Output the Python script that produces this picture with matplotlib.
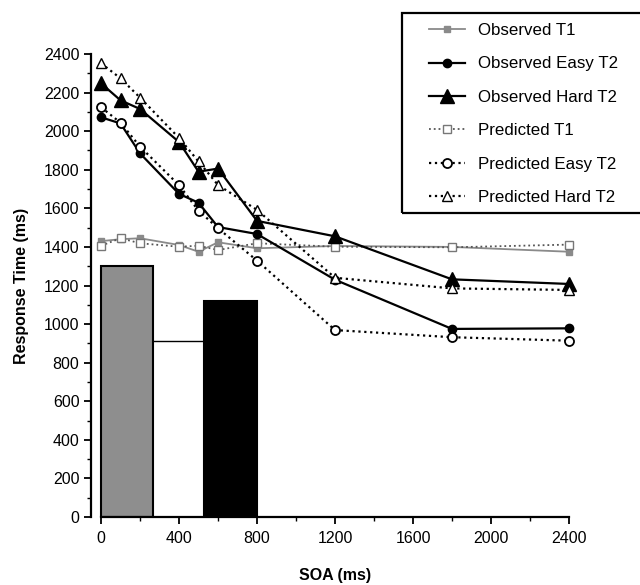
import numpy as np
import matplotlib.pyplot as plt
from matplotlib.patches import Rectangle
from matplotlib.ticker import MultipleLocator

plt.rcParams['font.family'] = ['Liberation Sans', 'DejaVu Sans']

# SOA conditions (ms)
soa = [0, 100, 200, 400, 500, 600, 800, 1200, 1800, 2400]

# mean response times (ms)
obs_t1 = [1430, 1440, 1445, 1410, 1375, 1424, 1393, 1405, 1400, 1375]
obs_easy = [2072, 2040, 1885, 1675, 1629, 1503, 1467, 1230, 975, 978]
obs_hard = [2248, 2160, 2115, 1944, 1790, 1806, 1535, 1455, 1232, 1208]
pred_t1 = [1406, 1445, 1419, 1401, 1406, 1384, 1419, 1401, 1398, 1412]
pred_easy = [2124, 2044, 1920, 1720, 1588, 1497, 1329, 969, 932, 914]
pred_hard = [2352, 2274, 2174, 1965, 1843, 1721, 1592, 1240, 1185, 1177]

# stimulus intervals drawn as bars: start, duration, height
bar_start = [0, 530]
bar_width = [265, 270]
bar_height = [1303, 1121]
bar_colors = ['#8e8e8e', 'black']
gap_level = 912

fig = plt.figure(figsize=(6.4, 5.85), dpi=100)
ax = fig.add_axes([0.1426, 0.1162, 0.7617, 0.7915])

ax.bar(bar_start, bar_height, width=bar_width, align='edge',
       color=bar_colors, edgecolor='black', linewidth=1.5, zorder=1)
ax.plot([bar_start[0] + bar_width[0], bar_start[1]], [gap_level, gap_level],
        color='black', linewidth=1.0, zorder=1)

ax.plot(soa, obs_t1, '-', color='#8a8a8a', marker='s', ms=5, mfc='#8a8a8a',
        mec='#8a8a8a', lw=1.3, label='Observed T1', zorder=3, clip_on=False)
ax.plot(soa, obs_easy, '-', color='black', marker='o', ms=6, mfc='black',
        mec='black', lw=1.6, label='Observed Easy T2', zorder=4, clip_on=False)
ax.plot(soa, obs_hard, '-', color='black', marker='^', ms=10, mfc='black',
        mec='black', lw=1.6, label='Observed Hard T2', zorder=4, clip_on=False)
ax.plot(soa, pred_t1, ':', color='#555555', marker='s', ms=6, mfc='white',
        mec='#777777', mew=1.0, lw=1.3, label='Predicted T1', zorder=3, clip_on=False)
ax.plot(soa, pred_easy, ':', color='black', marker='o', ms=6.5, mfc='white',
        mec='black', mew=1.3, lw=1.6, label='Predicted Easy T2', zorder=5, clip_on=False)
ax.plot(soa, pred_hard, ':', color='black', marker='^', ms=7.5, mfc='white',
        mec='black', mew=1.0, lw=1.6, label='Predicted Hard T2', zorder=5, clip_on=False)

ax.set_xlim(-50, 2450)
ax.set_ylim(0, 2400)
for side in ['top', 'right']:
    ax.spines[side].set_visible(False)
ax.spines['left'].set_bounds(0, 2400)
ax.spines['bottom'].set_bounds(0, 2400)
ax.spines['left'].set_linewidth(1.6)
ax.spines['bottom'].set_linewidth(1.6)

ax.xaxis.set_major_locator(MultipleLocator(400))
ax.xaxis.set_minor_locator(MultipleLocator(200))
ax.yaxis.set_major_locator(MultipleLocator(200))
ax.yaxis.set_minor_locator(MultipleLocator(100))
ax.tick_params(which='major', direction='out', length=5, width=1.3, labelsize=11.5)
ax.tick_params(which='minor', direction='out', length=3, width=1.0)
ax.tick_params(axis='x', pad=5)

ax.set_xlabel('SOA (ms)', fontsize=11.5, fontweight='bold', labelpad=16)
ax.set_ylabel('Response Time (ms)', fontsize=11.5, fontweight='bold', labelpad=11)

leg = ax.legend(loc='upper left', bbox_to_anchor=(429 / 640, 1 - 23 / 585),
                bbox_transform=fig.transFigure, frameon=False, fontsize=12.2,
                handlelength=2.1, handletextpad=0.8, labelspacing=1.09,
                borderpad=0, borderaxespad=0)

# box around the legend
fig.patches.append(Rectangle((402 / 640, 1 - 213 / 585), 242 / 640, 200 / 585,
                             transform=fig.transFigure, fill=False,
                             edgecolor='black', linewidth=1.6))

fig.savefig('out.png', dpi=100)
